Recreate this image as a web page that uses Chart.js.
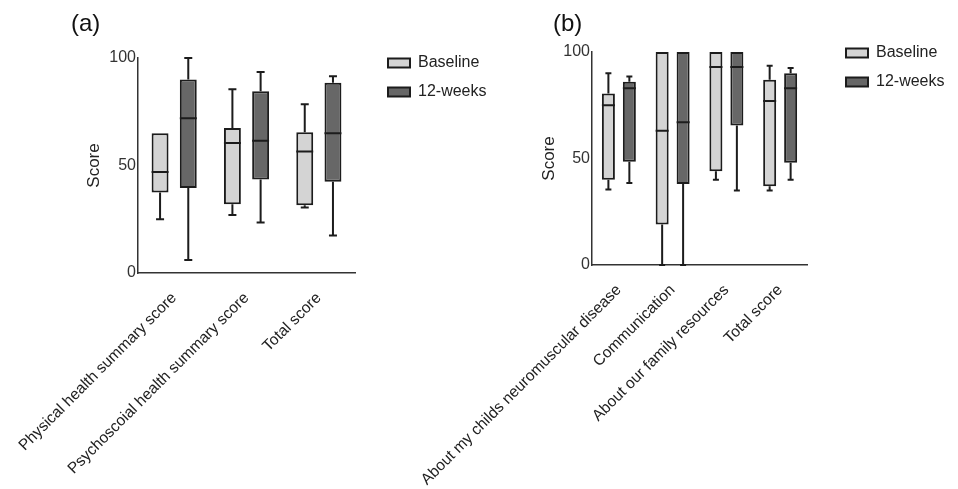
<!DOCTYPE html>
<html><head><meta charset="utf-8">
<script src="https://cdn.jsdelivr.net/npm/chart.js@4.4.1/dist/chart.umd.min.js"></script>
<style>
html,body{margin:0;padding:0;background:#fff;}
#wrap{position:relative;width:958px;height:489px;overflow:hidden;}
.panel{position:absolute;top:0;height:489px;}
#pa{left:-40px;width:560px;}
#pb{left:380px;width:578px;}
</style></head><body>
<div id="wrap">
<div class="panel" id="pa"><canvas id="ca"></canvas></div>
<div class="panel" id="pb"><canvas id="cb"></canvas></div>
</div>
<script>
// ---------- Data ----------
const seriesNames = ['Baseline', '12-weeks'];

// Panel (a)
const categoriesA = ['Physical health summary score', 'Psychoscoial health summary score', 'Total score'];
const aBaseMin    = [25, 27, 30.5];
const aBaseQ1     = [37.5, 32, 31.5];
const aBaseMedian = [47, 60.5, 56.5];
const aBaseQ3     = [65, 67.5, 65.5];
const aBaseMax    = [65, 85.5, 78.5];
const aWkMin      = [6, 23.5, 17.5];
const aWkQ1       = [39.5, 43.5, 42.5];
const aWkMedian   = [72, 61.5, 65];
const aWkQ3       = [90, 84.5, 88.5];
const aWkMax      = [100, 93.5, 91.5];

// Panel (b)
const categoriesB = ['About my childs neuromuscular disease', 'Communication', 'About our family resources', 'Total score'];
const bBaseMin    = [35.5, 0, 40, 35];
const bBaseQ1     = [40, 19, 44, 37];
const bBaseMedian = [75, 63, 93, 77];
const bBaseQ3     = [80.5, 100, 100, 87];
const bBaseMax    = [90, 100, 100, 93.5];
const bWkMin      = [38.5, 0, 35, 40];
const bWkQ1       = [48.5, 38, 65.5, 48];
const bWkMedian   = [83, 67, 93, 83];
const bWkQ3       = [86, 100, 100, 90];
const bWkMax      = [88.5, 100, 100, 92.5];

const yTicks = [0, 50, 100];
const panelLabels = ['(a)', '(b)'];
const yTitle = 'Score';

// ---------- Styling ----------
const FONT = '"Liberation Sans", Arial, Helvetica, sans-serif';
const LIGHT = '#d4d4d4';
const DARK = '#676767';
const EDGE = '#1c1c1c';
const AXIS = '#333333';

// Box-plot whiskers & medians drawn through the chart's own scales
const boxWhiskerPlugin = {
  id: 'boxWhisker',
  afterDatasetsDraw(chart, args, opts) {
    const ctx = chart.ctx;
    const yScale = chart.scales.y;
    ctx.save();
    ctx.strokeStyle = EDGE;
    ctx.lineWidth = 2;
    ctx.lineCap = 'butt';
    chart.data.datasets.forEach((ds, di) => {
      const meta = chart.getDatasetMeta(di);
      if (meta.hidden) return;
      meta.data.forEach((bar, i) => {
        const x = bar.x, w = bar.width, cap = opts.capWidth / 2;
        const pMin = yScale.getPixelForValue(ds.whisker.min[i]);
        const pMax = yScale.getPixelForValue(ds.whisker.max[i]);
        const pQ1 = yScale.getPixelForValue(ds.data[i][0]);
        const pQ3 = yScale.getPixelForValue(ds.data[i][1]);
        const pMed = yScale.getPixelForValue(ds.whisker.median[i]);
        ctx.beginPath();
        if (ds.whisker.max[i] > ds.data[i][1]) {
          ctx.moveTo(x, pQ3); ctx.lineTo(x, pMax);
          ctx.moveTo(x - cap, pMax); ctx.lineTo(x + cap, pMax);
        }
        if (ds.whisker.min[i] < ds.data[i][0]) {
          ctx.moveTo(x, pQ1); ctx.lineTo(x, pMin);
          ctx.moveTo(x - cap, pMin); ctx.lineTo(x + cap, pMin);
        }
        ctx.moveTo(x - w / 2, pMed); ctx.lineTo(x + w / 2, pMed);
        ctx.stroke();
      });
    });
    ctx.restore();
  }
};

function makeDataset(label, color, q1, q3, min, median, max, barPct) {
  return {
    label,
    data: q1.map((v, i) => [v, q3[i]]),
    whisker: {min, median, max},
    backgroundColor: color,
    borderColor: EDGE,
    borderWidth: 2,
    borderSkipped: false,
    categoryPercentage: 0.78,
    barPercentage: barPct,
    yAxisID: 'y'
  };
}

function makeChart(id, o) {
  return new Chart(document.getElementById(id), {
    type: 'bar',
    data: {labels: o.labels, datasets: o.datasets},
    plugins: [boxWhiskerPlugin],
    options: {
      responsive: true,
      maintainAspectRatio: false,
      animation: false,
      events: [],
      layout: {padding: {top: 8, left: o.pl, right: o.pr, bottom: 0}},
      plugins: {
        boxWhisker: {capWidth: o.cap},
        tooltip: {enabled: false},
        title: {
          display: true, text: o.title, align: 'start', color: '#111',
          font: {family: FONT, size: 24, weight: 'normal', lineHeight: 1.2},
          padding: {top: 2, bottom: o.titleBottom}
        },
        legend: {
          position: 'right', align: 'start', maxWidth: 200,
          title: {display: true, text: '', font: {size: 10, lineHeight: 1.2}, padding: {top: 0, bottom: o.legendSpacer}},
          labels: {boxWidth: 22, boxHeight: 9, padding: 13, color: '#222', font: {family: FONT, size: 16}}
        }
      },
      scales: {
        x: {
          grid: {display: false, drawTicks: false},
          border: {display: true, color: AXIS, width: 1.5},
          ticks: {autoSkip: false, minRotation: 45, maxRotation: 45, padding: 16, color: '#222', font: {family: FONT, size: 15.6}},
          afterFit(s) { s.height = o.xh; }
        },
        y: {
          min: 0, max: 100,
          afterBuildTicks(s) { s.ticks = yTicks.map(v => ({value: v})); },
          grid: {display: false, drawTicks: false},
          border: {display: true, color: AXIS, width: 1.5},
          ticks: {padding: 2, color: '#333', font: {family: FONT, size: 16}},
          title: {display: true, text: yTitle, color: '#222', font: {family: FONT, size: 17}, padding: {top: o.scorePad, bottom: 0}},
          afterFit(s) { s.width = o.yw; }
        },
        gap: {
          type: 'linear', position: 'right', display: true,
          grid: {display: false, drawTicks: false},
          border: {display: false},
          ticks: {display: false},
          afterFit(s) { s.width = o.gw; }
        }
      }
    }
  });
}

makeChart('ca', {
  labels: categoriesA,
  datasets: [
    makeDataset(seriesNames[0], LIGHT, aBaseQ1, aBaseQ3, aBaseMin, aBaseMedian, aBaseMax, 0.6),
    makeDataset(seriesNames[1], DARK, aWkQ1, aWkQ3, aWkMin, aWkMedian, aWkMax, 0.6)
  ],
  title: panelLabels[0], titleBottom: 19.2, legendSpacer: 22,
  pl: 111, pr: 23.5, yw: 67, gw: 20, xh: 216, cap: 8, scorePad: 13
});

makeChart('cb', {
  labels: categoriesB,
  datasets: [
    makeDataset(seriesNames[0], LIGHT, bBaseQ1, bBaseQ3, bBaseMin, bBaseMedian, bBaseMax, 0.62),
    makeDataset(seriesNames[1], DARK, bWkQ1, bWkQ3, bWkMin, bWkMedian, bWkMax, 0.62)
  ],
  title: panelLabels[1], titleBottom: 13.2, legendSpacer: 12,
  pl: 173, pr: 3.5, yw: 39, gw: 26, xh: 224, cap: 6, scorePad: -14
});
</script>
</body></html>
